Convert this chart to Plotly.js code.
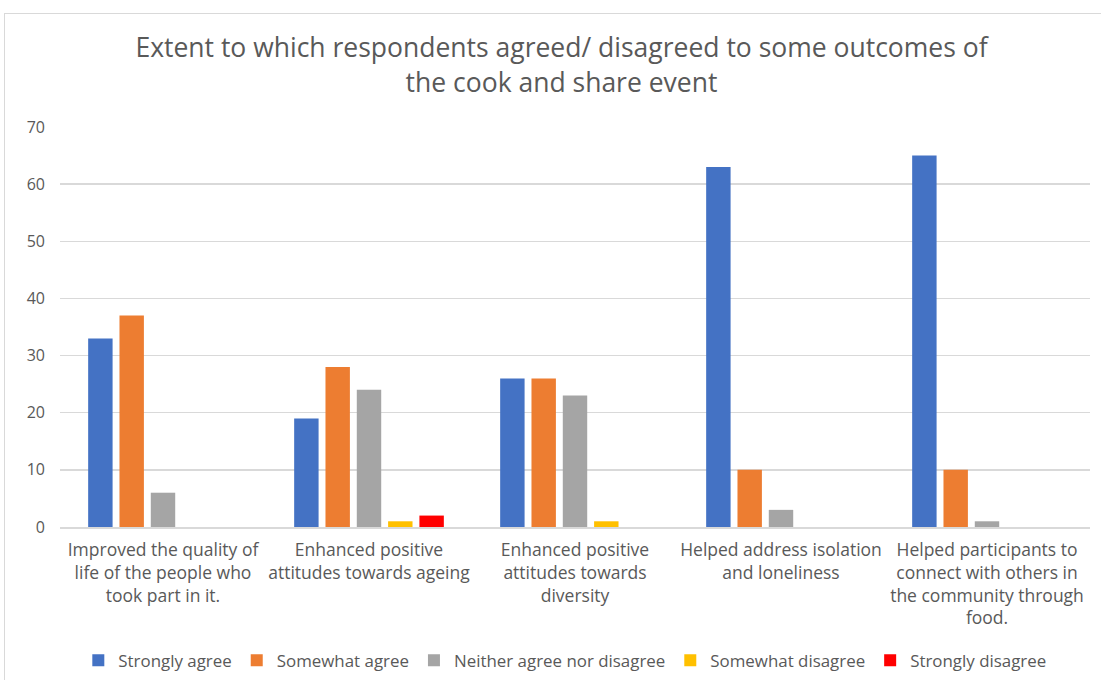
<!DOCTYPE html>
<html>
<head>
<meta charset="utf-8">
<script src="https://cdn.plot.ly/plotly-3.0.1.min.js"></script>
<style>
  html, body { margin: 0; padding: 0; background: #fff; }
  #wrap { position: relative; width: 1101px; height: 680px; }
  #chart { width: 1101px; height: 680px; }
  #frame { position: absolute; left: 4px; top: 13px; width: 1110px; height: 700px; border: 1px solid #d9d9d9; pointer-events: none; }
</style>
</head>
<body>
<div id="wrap">
  <div id="chart"></div>
  <div id="frame"></div>
</div>
<script>
const categories = [
  "Improved the quality of<br>life of the people who<br>took part in it.",
  "Enhanced positive<br>attitudes towards ageing",
  "Enhanced positive<br>attitudes towards<br>diversity",
  "Helped address isolation<br>and loneliness",
  "Helped participants to<br>connect with others in<br>the community through<br>food."
];
const seriesNames = ["Strongly agree", "Somewhat agree", "Neither agree nor disagree", "Somewhat disagree", "Strongly disagree"];
const stronglyAgree = [33, 19, 26, 63, 65];
const somewhatAgree = [37, 28, 26, 10, 10];
const neither = [6, 24, 23, 3, 1];
const somewhatDisagree = [0, 1, 1, 0, 0];
const stronglyDisagree = [0, 2, 0, 0, 0];
const colors = ["#4472C4", "#ED7D31", "#A5A5A5", "#FFC000", "#FF0000"];
const allValues = [stronglyAgree, somewhatAgree, neither, somewhatDisagree, stronglyDisagree];

const font = "Open Sans, Liberation Sans, sans-serif";
const traces = allValues.map((vals, i) => ({
  type: "bar",
  name: seriesNames[i],
  x: categories,
  y: vals,
  marker: { color: colors[i] },
  hoverinfo: "y"
}));

const layout = {
  width: 1101,
  height: 680,
  margin: { l: 60, r: 11, t: 127, b: 153 },
  paper_bgcolor: "#ffffff",
  plot_bgcolor: "#ffffff",
  font: { family: font, color: "#595959", size: 16 },
  title: {
    text: "Extent to which respondents agreed/ disagreed to some outcomes of<br>the cook and share event",
    font: { family: font, size: 26.5, color: "#595959" },
    x: 0.51, xanchor: "center", y: 0.916, yanchor: "top"
  },
  barmode: "group",
  bargap: 0.24,
  bargroupgap: 0.22,
  xaxis: {
    type: "category",
    showgrid: false,
    showline: true,
    linecolor: "#d9d9d9",
    linewidth: 2,
    ticks: "",
    ticklabelstandoff: 6,
    tickfont: { family: font, size: 17.5, color: "#595959" },
    automargin: false
  },
  yaxis: {
    range: [0, 70],
    dtick: 10,
    showgrid: true,
    gridcolor: "#d9d9d9",
    gridwidth: 1.5,
    zeroline: false,
    showline: false,
    ticks: "",
    ticklabelstandoff: 14,
    tickfont: { family: font, size: 16, color: "#595959" },
    automargin: false
  },
  legend: {
    orientation: "h",
    x: 0.513, xanchor: "center", xref: "container",
    y: 0.029, yanchor: "middle", yref: "container",
    font: { family: font, size: 16.9, color: "#595959" },
    itemclick: false,
    traceorder: "normal"
  },
  showlegend: true
};

Plotly.newPlot("chart", traces, layout, { displayModeBar: false, staticPlot: true });
</script>
</body>
</html>
